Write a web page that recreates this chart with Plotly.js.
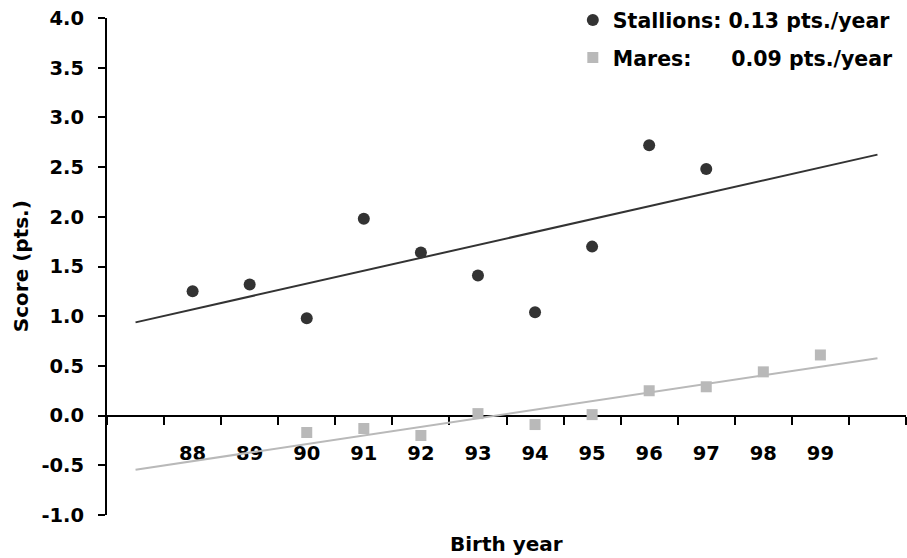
<!DOCTYPE html>
<html>
<head>
<meta charset="utf-8">
<script src="https://cdn.plot.ly/plotly-3.0.1.min.js"></script>
<style>html,body{margin:0;padding:0;background:#fff}#chart{width:907px;height:558px}</style>
</head>
<body>
<div id="chart"></div>
<script>
// ---- data ----
const yearLabels = ['88','89','90','91','92','93','94','95','96','97','98','99'];
const yearValues = [88,89,90,91,92,93,94,95,96,97,98,99];
const stallionYears = [88,89,90,91,92,93,94,95,96,97];
const stallionScores = [1.25,1.32,0.98,1.98,1.64,1.41,1.04,1.70,2.72,2.48];
const mareYears = [90,91,92,93,94,95,96,97,98,99];
const mareScores = [-0.17,-0.13,-0.20,0.02,-0.09,0.01,0.25,0.29,0.44,0.61];
const yTickValues = [-1,-0.5,0,0.5,1,1.5,2,2.5,3,3.5,4];
const yTickLabels = ['-1.0','-0.5','0.0','0.5','1.0','1.5','2.0','2.5','3.0','3.5','4.0'];
const trendSpan = [87,100];
const stallionName = 'Stallions: 0.13 pts./year';
const mareName = 'Mares:\u00A0\u00A0\u00A0\u00A0\u2009 0.09 pts./year';

// least-squares trend line
function fit(xs, ys){
  const n = xs.length;
  const mx = xs.reduce((a,b)=>a+b,0)/n, my = ys.reduce((a,b)=>a+b,0)/n;
  let sxy=0, sxx=0;
  for(let i=0;i<n;i++){ sxy+=(xs[i]-mx)*(ys[i]-my); sxx+=(xs[i]-mx)**2; }
  const b = sxy/sxx, a = my-b*mx;
  return trendSpan.map(x=>a+b*x);
}

const F = 'DejaVu Sans';
const stallionColor = '#333333';
const mareColor = '#b9b9b9';

const traces = [
  {x: trendSpan, y: fit(stallionYears, stallionScores), mode:'lines', line:{color:stallionColor, width:2}, showlegend:false, hoverinfo:'skip'},
  {x: trendSpan, y: fit(mareYears, mareScores), mode:'lines', line:{color:mareColor, width:2}, showlegend:false, hoverinfo:'skip'},
  {x: stallionYears, y: stallionScores, mode:'markers', name: stallionName, legendgroup:'s',
   marker:{symbol:'circle', size:12, color:stallionColor}},
  {x: mareYears, y: mareScores, mode:'markers', name: mareName, legendgroup:'m',
   marker:{symbol:'square', size:11, color:mareColor}}
];

const layout = {
  width: 907, height: 558,
  margin: {l:107, r:1, t:18, b:43, pad:0, autoexpand:false},
  paper_bgcolor:'#fff', plot_bgcolor:'#fff',
  font: {family:F, size:20, color:'#000', weight:'bold'},
  showlegend: true,
  legend: {x:0.583, xanchor:'left', y:1.036, yanchor:'top', traceorder:'grouped', tracegroupgap:8,
           font:{family:F, size:20.5, color:'#000', weight:'bold'}, bgcolor:'rgba(0,0,0,0)'},
  xaxis: {
    range:[86.5,100.5], anchor:'free', position:0.2,
    showline:true, linecolor:'#000', linewidth:2, layer:'below traces',
    tickmode:'array', tickvals: yearValues, ticktext: yearLabels, ticks:'',
    ticklabelstandoff: 20,
    tickfont:{family:F, size:19.5, color:'#000', weight:'bold'},
    showgrid:false, zeroline:false,
    minor:{tickmode:'linear', tick0:86.5, dtick:1, ticks:'outside', ticklen:8, tickwidth:2, tickcolor:'#000', showgrid:false}
  },
  yaxis: {
    range:[-1,4], showline:true, linecolor:'#000', linewidth:2,
    tickmode:'array', tickvals:yTickValues, ticktext:yTickLabels,
    ticks:'outside', ticklen:7, tickwidth:2, tickcolor:'#000',
    ticklabelstandoff: 10,
    tickfont:{family:F, size:19.5, color:'#000', weight:'bold'},
    showgrid:false, zeroline:false
  },
  annotations: [
    {text:'Birth year', xref:'paper', yref:'paper', x:0.5, y:-0.058, xanchor:'center', yanchor:'middle', showarrow:false,
     font:{family:F, size:20, color:'#000', weight:'bold'}},
    {text:'Score (pts.)', xref:'paper', yref:'paper', x:-0.108, y:0.5, xanchor:'center', yanchor:'middle', textangle:-90, showarrow:false,
     font:{family:F, size:20, color:'#000', weight:'bold'}}
  ]
};

Plotly.newPlot('chart', traces, layout, {staticPlot:true, displayModeBar:false});
</script>
</body>
</html>
